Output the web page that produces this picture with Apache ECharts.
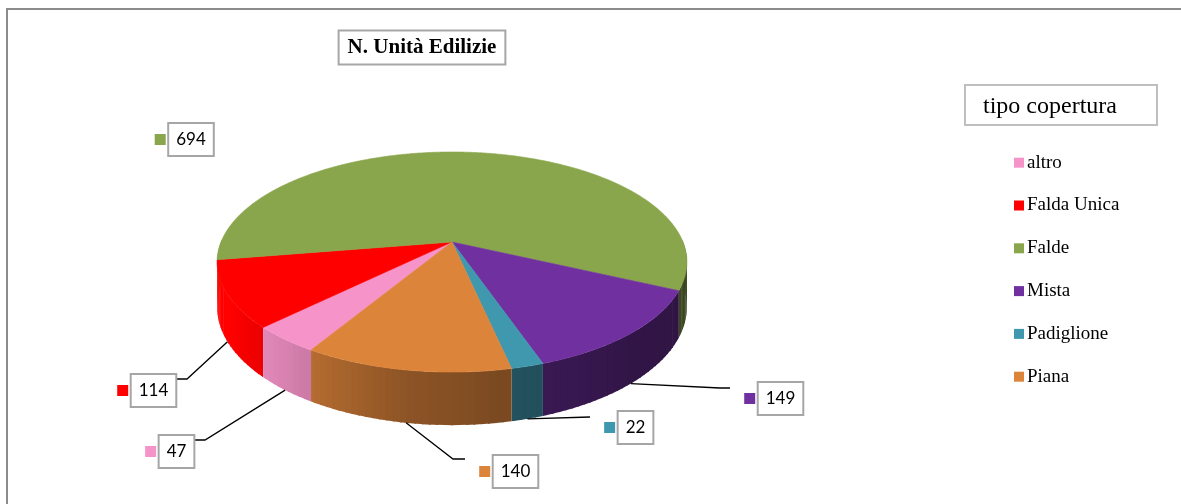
<!DOCTYPE html>
<html>
<head>
<meta charset="utf-8">
<style>
  html, body { margin: 0; padding: 0; background: #ffffff; }
  #chart { width: 1181px; height: 504px; }
</style>
<script src="https://cdn.jsdelivr.net/npm/echarts@6/dist/echarts.min.js"></script>
</head>
<body>
<div id="chart"></div>
<script>
// ---- data ----
const categories = ['altro', 'Falda Unica', 'Falde', 'Mista', 'Padiglione', 'Piana'];
const values = [47, 114, 694, 149, 22, 140];

// ---- styles ----
const sliceColors = ['#F694C9', '#FF0000', '#8AA64C', '#7030A0', '#4098AE', '#DD843B'];
const chartTitle = 'N. Unità Edilizie';
const legendTitle = 'tipo copertura';

// tilted disc: centre, radii, perspective factor, thickness, first slice angle (deg, clockwise)
const GEO = { cx: 452, cy: 242, rx: 231, ry: 106.4, persp: 0.182, depth: 43.4, startDeg: 121 };

// value label boxes and their leader-line bends
const labelLayout = [
  { box: [176.5, 451.5], bends: [[205, 440], [194, 440]] },
  { box: [153.5, 390.5], bends: [[187, 379], [176, 379]] },
  { box: [191, 139.5], bends: null },
  { box: [780.5, 398.5], bends: [[720, 388], [730, 388]] },
  { box: [635.5, 427.5], bends: [[590, 417]] },
  { box: [515.5, 471.5], bends: [[453, 459], [465, 459]] }
];

// wall brightness by angle (light coming from the left)
const wallLight = [[0, 0.40], [15, 0.42], [47, 0.44], [74, 0.53], [99, 0.64], [128, 0.88], [150, 1.0], [180, 1.0]];

const total = values.reduce((a, b) => a + b, 0);
const startAngles = [];
{
  let acc = GEO.startDeg;
  values.forEach(v => { startAngles.push(acc); acc += v / total * 360; });
}

function project(deg, h) {
  const r = deg * Math.PI / 180;
  const s = 1 / (1 - GEO.persp * Math.sin(r));
  return [GEO.cx + GEO.rx * Math.cos(r) * s, GEO.cy + (GEO.ry * Math.sin(r) + h) * s];
}

function lightAt(deg) {
  let d = ((deg % 360) + 360) % 360;
  if (d > 180) d = d > 270 ? 0 : 180;
  for (let i = 1; i < wallLight.length; i++) {
    const [a0, b0] = wallLight[i - 1], [a1, b1] = wallLight[i];
    if (d <= a1) return b0 + (b1 - b0) * (d - a0) / (a1 - a0);
  }
  return 1;
}

function shade(hex, k) {
  const n = parseInt(hex.slice(1), 16);
  const c = [(n >> 16) & 255, (n >> 8) & 255, n & 255].map(x => Math.max(0, Math.min(255, Math.round(x * k))));
  return 'rgb(' + c.join(',') + ')';
}

function renderSlice(params, api) {
  const i = params.dataIndex;
  const v = api.value(0);
  const a0 = startAngles[i];
  const a1 = a0 + v / total * 360;
  const color = sliceColors[i];
  const children = [];

  // outer wall, drawn in thin strips so the shading can vary with the angle
  const step = 1.5;
  for (let a = a0; a < a1 - 1e-6; a += step) {
    const b = Math.min(a + step, a1);
    const m = (a + b) / 2;
    const sm = Math.sin(m * Math.PI / 180);
    if (sm < -0.02) continue;
    const bb = Math.min(b + 0.4, a1);
    children.push({
      type: 'polygon',
      z2: 10 + sm * 10,
      shape: { points: [project(a, 0), project(bb, 0), project(bb, GEO.depth), project(a, GEO.depth)] },
      style: { fill: shade(color, lightAt(m)), stroke: null },
      silent: true
    });
  }

  // top face
  const pts = [[GEO.cx, GEO.cy]];
  for (let a = a0; a < a1; a += 0.5) pts.push(project(a, 0));
  pts.push(project(a1, 0));
  children.push({
    type: 'polygon',
    z2: 40,
    shape: { points: pts },
    style: { fill: color, stroke: color, lineWidth: 0.6 },
    silent: true
  });

  // value label with its key and leader line
  const lay = labelLayout[i];
  const mid = (a0 + a1) / 2;
  if (lay.bends) {
    const anchor = project(mid, GEO.depth);
    children.push({
      type: 'polyline',
      z2: 60,
      shape: { points: [anchor].concat(lay.bends) },
      style: { stroke: '#000', lineWidth: 1.3, fill: null },
      silent: true
    });
  }
  const txt = String(v);
  const boxW = txt.length * 9.86 + 16;
  children.push({
    type: 'text',
    z2: 70,
    style: {
      text: txt,
      x: lay.box[0],
      y: lay.box[1],
      align: 'center',
      verticalAlign: 'middle',
      font: '17px Lato, "Open Sans", sans-serif',
      fill: '#000',
      lineHeight: 19,
      backgroundColor: '#fff',
      borderColor: '#A6A6A6',
      borderWidth: 2,
      padding: [6, 7, 6, 7]
    },
    silent: true
  });
  children.push({
    type: 'rect',
    z2: 70,
    shape: { x: lay.box[0] - boxW / 2 - 13.5, y: lay.box[1] - 5.5, width: 11, height: 11 },
    style: { fill: color },
    silent: true
  });

  return { type: 'group', children: children };
}

// legend built from the categories
const legendItems = [];
categories.forEach((name, i) => {
  const y = 162.7 + i * 42.8;
  legendItems.push({
    type: 'rect', shape: { x: 1014, y: y - 5, width: 10, height: 10 }, style: { fill: sliceColors[i] }
  });
  legendItems.push({
    type: 'text', x: 1027, y: y,
    style: { text: name, font: '19px "Liberation Serif", "Times New Roman", serif', fill: '#000', verticalAlign: 'middle', align: 'left' }
  });
});

const chart = echarts.init(document.getElementById('chart'), null, { renderer: 'canvas' });
chart.setOption({
  backgroundColor: '#ffffff',
  animation: false,
  graphic: [
    // chart frame
    { type: 'polyline', shape: { points: [[7, 504], [7, 9], [1181, 9]] }, style: { stroke: '#8C8C8C', lineWidth: 2, fill: null } },
    // chart title in its box
    {
      type: 'text', x: 422, y: 47.5,
      style: {
        text: chartTitle, align: 'center', verticalAlign: 'middle',
        font: 'bold 21px "Liberation Serif", "Times New Roman", serif', fill: '#000',
        backgroundColor: '#fff', borderColor: '#A6A6A6', borderWidth: 2, padding: [6, 8, 5, 8], lineHeight: 21
      }
    },
    // legend title box
    { type: 'rect', shape: { x: 965, y: 85, width: 192, height: 40 }, style: { fill: '#fff', stroke: '#BFBFBF', lineWidth: 2 } },
    {
      type: 'text', x: 983, y: 107,
      style: { text: legendTitle, font: '24px "Liberation Serif", "Times New Roman", serif', fill: '#000', verticalAlign: 'middle', align: 'left' }
    },
    { type: 'group', children: legendItems }
  ],
  series: [{
    type: 'custom',
    coordinateSystem: 'none',
    renderItem: renderSlice,
    data: values.map((v, i) => ({ name: categories[i], value: [v] }))
  }]
});
</script>
</body>
</html>
